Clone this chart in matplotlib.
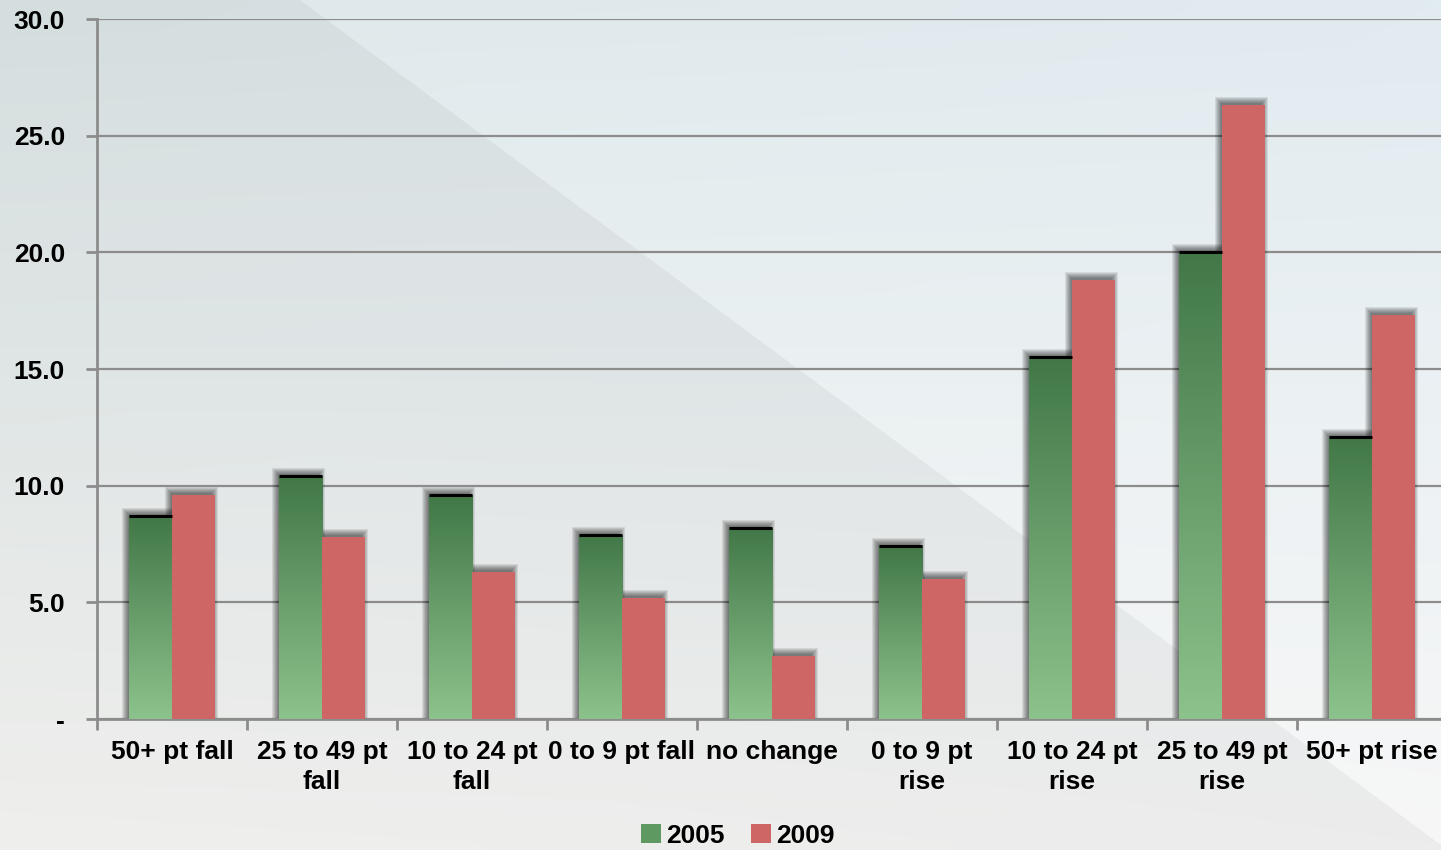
import matplotlib
matplotlib.use('Agg')

import matplotlib.pyplot as plt
import numpy as np
from matplotlib.colors import LinearSegmentedColormap
from matplotlib.patches import Polygon, Rectangle, Patch

plt.rcParams['font.family'] = ['Liberation Sans', 'DejaVu Sans']
plt.rcParams['font.weight'] = 'bold'

categories = ["50+ pt fall", "25 to 49 pt\nfall", "10 to 24 pt\nfall", "0 to 9 pt fall",
              "no change", "0 to 9 pt\nrise", "10 to 24 pt\nrise", "25 to 49 pt\nrise",
              "50+ pt rise"]
values_2005 = [8.7, 10.4, 9.6, 7.9, 8.2, 7.4, 15.5, 20.0, 12.1]
values_2009 = [9.6, 7.8, 6.3, 5.2, 2.7, 6.0, 18.8, 26.3, 17.3]
y_ticks = [0, 5, 10, 15, 20, 25, 30]
y_tick_labels = ["-", "5.0", "10.0", "15.0", "20.0", "25.0", "30.0"]

W, H = 1441, 850
fig = plt.figure(figsize=(W / 100, H / 100), dpi=100)

# background: soft vertical gradient plus a darker diagonal wedge on the left
bg = fig.add_axes([0, 0, 1, 1], zorder=-5)
bg.set_xlim(0, W)
bg.set_ylim(H, 0)
bg.axis('off')
tl, tr = np.array([223, 233, 234]), np.array([225, 235, 240])
bl, br = np.array([250, 250, 248]), np.array([247, 247, 247])
u = np.linspace(0, 1, 64)[None, :, None]
v = np.linspace(0, 1, 64)[:, None, None]
grad = (tl * (1 - u) * (1 - v) + tr * u * (1 - v) + bl * (1 - u) * v + br * u * v) / 255
bg.imshow(grad, extent=[0, W, H, 0], aspect='auto', interpolation='bilinear')
bg.add_patch(Polygon([(0, 0), (300, 0), (W, 845), (W, H), (0, H)],
                     closed=True, facecolor='black', alpha=0.045, lw=0))

ax = fig.add_axes([97 / W, 131 / H, 1350 / W, 700 / H])
ax.patch.set_alpha(0)

n = len(categories)
bar_w = 0.287
x_green = np.arange(n) + 0.5 - bar_w
x_red = np.arange(n) + 0.5

px_x = 1 / 150.0
px_y = 30 / 700.0

green_cmap = LinearSegmentedColormap.from_list('green_bar', ['#427848', '#8CC38C'])
gradient = np.linspace(0, 1, 256).reshape(-1, 1)


def draw_shadows(xs, heights):
    # stacked translucent rectangles give a blurred drop shadow up and to the left
    for x0, h in zip(xs, heights):
        for s in range(7):
            ax.add_patch(Rectangle((x0 - (1 + s) * px_x, 0),
                                   bar_w + 2 * s * px_x - 2 * px_x,
                                   h + (2 + s) * px_y,
                                   facecolor='black', alpha=0.085, lw=0, zorder=2))


draw_shadows(x_green, values_2005)
draw_shadows(x_red, values_2009)

green_bars = ax.bar(x_green, values_2005, width=bar_w, align='edge',
                    color='none', lw=0, zorder=3)
for bar in green_bars:
    x0 = bar.get_x()
    h = bar.get_height()
    im = ax.imshow(gradient, extent=[x0, x0 + bar_w, 0, h], aspect='auto',
                   cmap=green_cmap, zorder=3)
    im.set_clip_path(bar)
ax.hlines(values_2005, x_green, x_green + bar_w, color='black', lw=2.2, zorder=4)

ax.bar(x_red, values_2009, width=bar_w, align='edge', color='#CF6666', lw=0, zorder=3)

ax.set_xlim(0, n)
ax.set_ylim(0, 30)

grid_color = '#8c8c8c'
ax.set_yticks(y_ticks)
ax.set_yticklabels(y_tick_labels, fontsize=19, fontweight='bold')
ax.yaxis.grid(True, color=grid_color, lw=1.6, zorder=1)
ax.set_axisbelow(True)
ax.tick_params(axis='y', length=8, width=2, color=grid_color, pad=15)

ax.set_xticks(np.arange(n + 1))
ax.set_xticklabels([])
ax.set_xticks(np.arange(n) + 0.5, minor=True)
ax.set_xticklabels(categories, minor=True, fontsize=19, fontweight='bold',
                   linespacing=1.35)
ax.tick_params(axis='x', which='major', length=8, width=2, color=grid_color)
ax.tick_params(axis='x', which='minor', length=0, pad=15)

for side in ['top', 'right']:
    ax.spines[side].set_visible(False)
for side in ['left', 'bottom']:
    ax.spines[side].set_color(grid_color)
    ax.spines[side].set_linewidth(2)

handles = [Patch(facecolor='#5f9962', label='2005'), Patch(facecolor='#CF6666', label='2009')]
fig.legend(handles=handles, loc='center', bbox_to_anchor=(738 / W, 1 - 836 / H),
           ncol=2, frameon=False, handlelength=0.75, handleheight=0.75,
           handletextpad=0.2, columnspacing=1.0,
           prop={'size': 19, 'weight': 'bold'})

fig.savefig('out.png', dpi=100)
